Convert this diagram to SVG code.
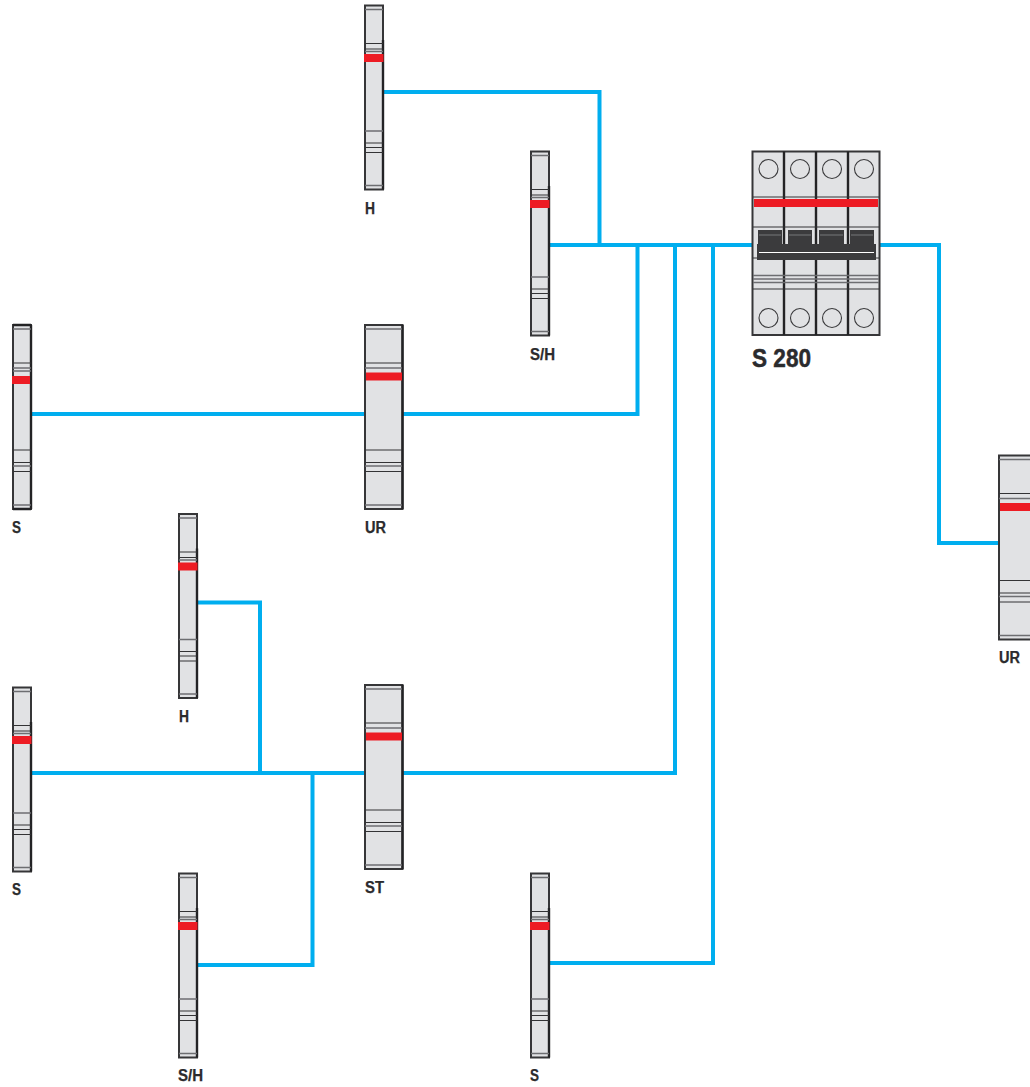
<svg xmlns="http://www.w3.org/2000/svg" xmlns:xlink="http://www.w3.org/1999/xlink" width="1030" height="1087" viewBox="0 0 1030 1087">
<style>
.bg{fill:#fff}
.wire{fill:none;stroke:#00aeef;stroke-width:4;stroke-linejoin:miter}
.body{fill:#e1e2e4;stroke:#363638;stroke-width:2}
.side{fill:none;stroke:#232325;stroke-width:2.4}
.l{stroke:#333335;stroke-width:1;fill:none}
.g{stroke:#6d6e71;stroke-width:1.5;fill:none}
.red{fill:#ed1c24}
.ring{fill:none;stroke:#3a3a3c;stroke-width:1.1}
.hd{fill:#3b3b3d}
text{font-family:"Liberation Sans Narrow","Liberation Sans",Arial,sans-serif;font-weight:700;fill:#2b2b2d;font-size:16px;stroke:#2b2b2d;stroke-width:0.25}
.big{font-size:26px;stroke-width:0.5}
</style>
<defs>
<g id="narrow">
<rect class="body" x="1" y="0.500" width="18" height="184"/>
<path class="side" d="M19 35V184.500"/>
<path class="l" d="M1 38.500H19M1 44H19M1 138H19M1 142.500H19M1 147.500H19"/>
<path class="g" d="M1 4.500H19M1 180.500H19M1 46.500H19M1 126H19"/>
<rect class="red" x="0" y="49" width="19.500" height="8"/>
</g>
<g id="narrow-b">
<rect class="body" x="1" y="0.500" width="18" height="184"/>
<path class="side" d="M19 0.500V184.500M1 0.500H19M1 184.500H19"/>
<path class="l" d="M1 38.500H19M1 125.500H19M1 138H19M1 147H19"/>
<path class="g" d="M1 4.500H19M1 43.500H19M1 46.500H19M1 141.500H19M1 180.500H19"/>
<rect class="red" x="0" y="51.500" width="18" height="8"/>
</g>
<g id="wide">
<rect class="body" x="1" y="0.500" width="37.500" height="184"/>
<path class="side" d="M38.500 0.500V184.500"/>
<path class="l" d="M1 38.500H38M1 125.500H38M1 138H38M1 147H38"/>
<path class="g" d="M1 4.500H38M1 43.500H38M1 141.500H38M1 180.500H38"/>
<rect class="red" x="2" y="48" width="36" height="8"/>
</g>
</defs>
<rect class="bg" width="1030" height="1087"/>
<g id="connectors">
<path class="wire" d="M384 92H599.500V245"/>
<path class="wire" d="M550 245H752"/>
<path class="wire" d="M880 245H939V543H998"/>
<path class="wire" d="M31 414H364"/>
<path class="wire" d="M403 414H637.500V245"/>
<path class="wire" d="M197 602.500H260V773"/>
<path class="wire" d="M31 773H364"/>
<path class="wire" d="M403 773H675V245"/>
<path class="wire" d="M197 965H312.500V773"/>
<path class="wire" d="M550 963H713V245"/>
</g>
<g id="node-h-top"><use xlink:href="#narrow" href="#narrow" x="364" y="5"/><text x="365" y="214" textLength="10" lengthAdjust="spacingAndGlyphs">H</text></g>
<g id="node-sh-top"><use xlink:href="#narrow" href="#narrow" x="530" y="151"/><text x="530" y="360" textLength="25" lengthAdjust="spacingAndGlyphs">S/H</text></g>
<g id="node-s-1"><use xlink:href="#narrow-b" href="#narrow-b" x="12" y="324.500"/><text x="12" y="533" textLength="9" lengthAdjust="spacingAndGlyphs">S</text></g>
<g id="node-ur-1"><use xlink:href="#wide" href="#wide" x="364" y="324.500"/><text x="365" y="533" textLength="21" lengthAdjust="spacingAndGlyphs">UR</text></g>
<g id="node-h-2"><use xlink:href="#narrow" href="#narrow" x="178" y="513.500"/><text x="179" y="722" textLength="10" lengthAdjust="spacingAndGlyphs">H</text></g>
<g id="node-s-2"><use xlink:href="#narrow" href="#narrow" x="12" y="687"/><text x="12" y="895" textLength="9" lengthAdjust="spacingAndGlyphs">S</text></g>
<g id="node-st"><use xlink:href="#wide" href="#wide" x="364" y="684.500"/><text x="365" y="893" textLength="19" lengthAdjust="spacingAndGlyphs">ST</text></g>
<g id="node-sh-2"><use xlink:href="#narrow" href="#narrow" x="178" y="873"/><text x="178" y="1081" textLength="25" lengthAdjust="spacingAndGlyphs">S/H</text></g>
<g id="node-s-3"><use xlink:href="#narrow" href="#narrow" x="530" y="873"/><text x="530" y="1081" textLength="9" lengthAdjust="spacingAndGlyphs">S</text></g>
<g id="node-ur-2"><use xlink:href="#wide" href="#wide" x="998" y="455"/><text x="999" y="663" textLength="21" lengthAdjust="spacingAndGlyphs">UR</text></g>
<g id="node-s280">
<rect class="body" x="752.500" y="151.500" width="127" height="183.500"/>
<path class="side" d="M784 151.500V335M816 151.500V335M848 151.500V335"/>
<path class="l" d="M753 197H879M753 227H879M753 258H879M753 289H879"/>
<path class="g" d="M753 275.500H879M753 279H879M753 282.500H879"/>
<rect class="red" x="754" y="199" width="124" height="8"/>
<g class="ring"><circle cx="768.500" cy="169" r="9.500"/><circle cx="800" cy="169" r="9.500"/><circle cx="832" cy="169" r="9.500"/><circle cx="864" cy="169" r="9.500"/><circle cx="768.500" cy="318" r="9.500"/><circle cx="800" cy="318" r="9.500"/><circle cx="832" cy="318" r="9.500"/><circle cx="864" cy="318" r="9.500"/></g>
<rect class="hd" x="758" y="230" width="24" height="15"/><rect class="hd" x="788" y="230" width="24" height="15"/><rect class="hd" x="819" y="230" width="25" height="15"/><rect class="hd" x="850" y="230" width="24" height="15"/>
<path d="M759 235H781M789 235H811M820 235H843M851 235H873" stroke="#77787b" fill="none"/>
<rect class="hd" x="757" y="244" width="119" height="16"/>
<path d="M759 252.500H874" stroke="#fff" stroke-width="1" fill="none"/>
<text class="big" x="752" y="367" textLength="59" lengthAdjust="spacingAndGlyphs">S 280</text>
</g>
</svg>
